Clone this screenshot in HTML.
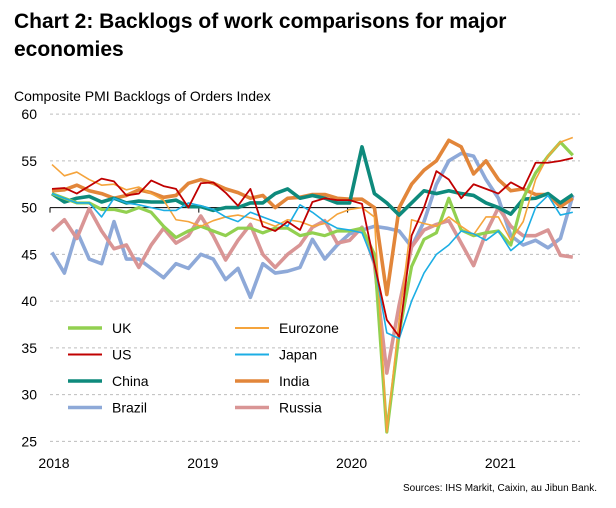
<!DOCTYPE html>
<html><head><meta charset="utf-8"><style>
body{margin:0;background:#fff;font-family:"Liberation Sans",Arial,sans-serif}
svg text{font-family:"Liberation Sans",Arial,sans-serif}
</style></head><body>
<svg id="chart" width="616" height="503" viewBox="0 0 616 503">
<text x="14" y="28" font-size="21" font-weight="bold" fill="#000">Chart 2: Backlogs of work comparisons for major</text>
<text x="14" y="56" font-size="21" font-weight="bold" fill="#000">economies</text>
<text x="14" y="101" font-size="14" fill="#000">Composite PMI Backlogs of Orders Index</text>
<text x="597" y="491" font-size="10" fill="#000" text-anchor="end">Sources: IHS Markit, Caixin, au Jibun Bank.</text>
<g id="grid"></g><g id="axes"></g><g id="series"></g><g id="legend"></g>
</svg>
<script>
const yTicks=[60,55,50,45,40,35,30,25];
const xLabels=["2018","2019","2020","2021"];
const seriesNames=["UK","Eurozone","US","Japan","China","India","Brazil","Russia"];
const uk=[51.5,51,50.5,50.5,49.8,49.8,49.5,50,49.5,48,46.8,47.5,48,47.5,47,47.8,47.8,47.3,47.8,47.8,47,47.3,47,47.5,47.5,47.8,45,26,36.6,43.7,46.6,47.3,51,47.6,47,47.3,47.5,46,51,53.7,55.5,57,55.6];
const eurozone=[54.6,53.4,53.8,53,52.4,52.5,51.9,52.2,51.5,50.8,48.7,48.5,48,48.6,49,49.2,48.9,48.5,48,48.7,48.5,48,48.3,49.3,49.8,50,49,26,38,48.7,48.3,48,49,48,47.1,49,49,46.5,48.5,53,55.5,57,57.5];
const us=[52,52.1,51.5,52.3,53.1,52.8,51.3,51.5,52.9,52.3,52,50,52.6,52.7,51.6,50.2,52,48,47.5,48.5,47.6,50.6,51,50.8,50.8,50.4,44,38,36.2,47,50,53.9,53,51,52.5,52,51.5,52.7,52,54.8,54.8,55,55.3];
const japan=[51.5,51,50.5,50.5,49,51,50.5,50.3,50,49.7,49.7,50.5,50.2,49.8,49,48.5,49.5,49,48.5,48,50.3,49.5,48.5,47.8,47.6,47.3,44,36.6,36,40,43,45,46,47.5,47.2,46.5,47.5,45.4,46.5,50,51.3,49.2,49.5];
const china=[51.5,50.6,51,51.2,50.6,51,50.5,50.7,50.6,50.6,50.8,50.1,50.1,49.7,50,50,50.5,50.5,51.5,52,51,51.3,51,50.5,50.5,56.5,51.5,50.5,49.2,50.5,51.8,51.5,51.8,51.5,51.3,50.5,50,49.3,50.9,51,51.5,50.5,51.4];
const india=[51.8,51.9,52.4,51.8,51.5,51,51.3,51.9,51.6,51.1,51.3,52.6,53,52.6,52,51.6,51,51.3,50,51,51.1,51.4,51.4,51,50.9,50.9,50,40.7,50,52.5,54,55,57.2,56.5,53.6,55,53,51.8,52,51.4,51.4,50.1,51];
const brazil=[45.2,43,47.5,44.5,44,48.5,44.5,44.5,43.5,42.5,44,43.5,45,44.5,42.3,43.5,40.4,44,43,43.2,43.6,46.6,44.5,46,47.2,47.6,48,47.8,47.5,45.8,48.5,52.5,55,55.8,55.5,53,51,47,46,46.5,45.7,46.7,51.3];
const russia=[47.5,48.7,46.7,49.9,47.5,45.6,46,43.6,46,47.8,46.2,47,49.1,47,44.4,46.5,48.2,45,43.6,45,46,47.9,48.6,46.2,46.5,47.9,44,32.3,39.6,45.8,47.6,48.2,48.6,46.2,43.8,47.3,50,48,47,47,47.6,44.9,44.7];
const colors=["#92D050","#F5A43C","#C00000","#1CAEE4","#0E8A7C","#E2863A","#8EA9D8","#D99595"];
const widths=[3.2,1.6,1.8,1.6,3.6,3.6,3.6,3.6];
const NS="http://www.w3.org/2000/svg";
const x0=52,step=12.4;
function xs(i){return x0+i*step;}
function ys(v){return 207.6-(v-50)*9.35;}
const grid=document.getElementById('grid');
yTicks.forEach(t=>{
  const y=ys(t);
  if(t!==50){
    const l=document.createElementNS(NS,'line');
    
    
    l.setAttribute('x1',50);l.setAttribute('x2',580);l.setAttribute('y1',y);l.setAttribute('y2',y);
    l.setAttribute('stroke','#bdbdbd');l.setAttribute('stroke-dasharray','3,3');l.setAttribute('stroke-width','1');
    grid.appendChild(l);
  }
  const tx=document.createElementNS(NS,'text');
  
  
  tx.setAttribute('x',37);tx.setAttribute('y',y+5);tx.setAttribute('text-anchor','end');tx.setAttribute('font-size','14');
  tx.textContent=t;grid.appendChild(tx);
});
const axes=document.getElementById('axes');
const ax=document.createElementNS(NS,'line');


ax.setAttribute('x1',50);ax.setAttribute('x2',580);ax.setAttribute('y1',ys(50));ax.setAttribute('y2',ys(50));
ax.setAttribute('stroke','#000');ax.setAttribute('stroke-width','1');axes.appendChild(ax);
xLabels.forEach((lab,k)=>{
  const x=xs(k*12)-2;
  const tk=document.createElementNS(NS,'line');
  
  
  tk.setAttribute('x1',x);tk.setAttribute('x2',x);tk.setAttribute('y1',ys(50));tk.setAttribute('y2',ys(50)+5);
  tk.setAttribute('stroke','#000');axes.appendChild(tk);
  const tx=document.createElementNS(NS,'text');
  
  
  tx.setAttribute('x',x+4);tx.setAttribute('y',468);tx.setAttribute('text-anchor','middle');tx.setAttribute('font-size','14');
  tx.textContent=lab;axes.appendChild(tx);
});
const data=[uk,eurozone,us,japan,china,india,brazil,russia];
const order=[6,7,5,4,0,1,3,2];
const sg=document.getElementById('series');
order.forEach(s=>{
  const p=document.createElementNS(NS,'polyline');
  
  
  p.setAttribute('points',data[s].map((v,i)=>xs(i)+','+ys(v)).join(' '));
  p.setAttribute('fill','none');p.setAttribute('stroke',colors[s]);p.setAttribute('stroke-width',widths[s]);
  p.setAttribute('stroke-linejoin','round');
  sg.appendChild(p);
});
const lg=document.getElementById('legend');
seriesNames.forEach((n,s)=>{
  const col=s%2,row=Math.floor(s/2);
  const lx=col===0?68:235,ly=328+row*26.5;
  const l=document.createElementNS(NS,'line');
  
  
  l.setAttribute('x1',lx);l.setAttribute('x2',lx+34);l.setAttribute('y1',ly);l.setAttribute('y2',ly);
  l.setAttribute('stroke',colors[s]);l.setAttribute('stroke-width',widths[s]<2?2:3.5);lg.appendChild(l);
  const t=document.createElementNS(NS,'text');
  
  
  t.setAttribute('x',lx+44);t.setAttribute('y',ly+5);t.setAttribute('font-size','14');
  t.textContent=n;lg.appendChild(t);
});
</script>
</body></html>
